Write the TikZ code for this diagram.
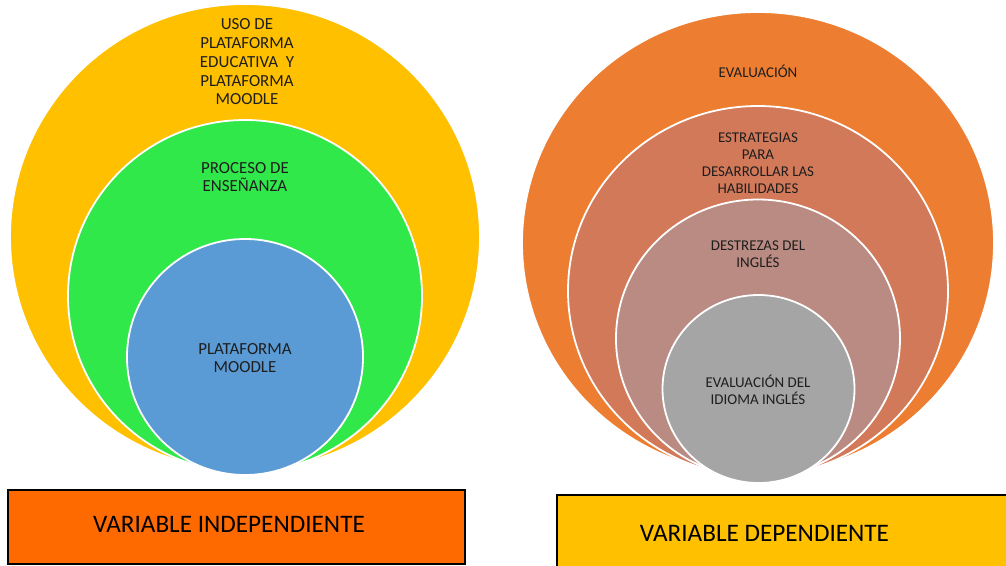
\documentclass[tikz,border=0pt]{standalone}
\usepackage{fontspec}
\setmainfont{Carlito}
\definecolor{cyellow}{RGB}{255,192,0}
\definecolor{cgreen}{RGB}{48,232,74}
\definecolor{cblue}{RGB}{91,155,213}
\definecolor{corange}{RGB}{237,125,49}
\definecolor{csalmon}{RGB}{210,121,90}
\definecolor{cmauve}{RGB}{186,139,130}
\definecolor{cgray}{RGB}{165,165,165}
\definecolor{cboxor}{RGB}{255,106,0}
\definecolor{ctext}{RGB}{30,30,30}
\tikzset{
  ring/.style={draw=white, line width=1.8bp},
  lefttxt/.style={text=ctext, align=center, inner sep=0pt, font=\fontsize{17}{18.8}\selectfont},
  righttxt/.style={text=ctext, align=center, inner sep=0pt, font=\fontsize{15}{17}\selectfont},
  varbox/.style={draw=black, line width=2bp},
  vartxt/.style={text=black, inner sep=0pt, font=\fontsize{25.3}{30}\selectfont}
}
\begin{document}
\begin{tikzpicture}[x=1bp,y=-1bp]
\useasboundingbox (0,0) rectangle (1006,566);
\fill[white] (0,0) rectangle (1006,566);
% left circles
\path[ring, fill=cyellow] (245,237) ellipse [x radius=235, y radius=233];
\path[ring, fill=cgreen] (245,296) ellipse [x radius=177, y radius=176];
\path[ring, fill=cblue] (245,357) ellipse [x radius=118, y radius=118];
% right circles
\path[ring, fill=corange] (758,243) ellipse [x radius=236, y radius=231];
\path[ring, fill=csalmon] (758,291) ellipse [x radius=190, y radius=185];
\path[ring, fill=cmauve] (758,338.5) ellipse [x radius=142, y radius=139];
\path[ring, fill=cgray] (758.5,389) ellipse [x radius=96, y radius=94];
% left texts
\node[lefttxt] (uso) at (247,62) {USO DE\\PLATAFORMA\\EDUCATIVA\ \ Y\\PLATAFORMA\\MOODLE};
\node[lefttxt] (proc) at (245,177) {PROCESO DE\\ENSEÑANZA};
\node[lefttxt] (moodle) at (245,358) {PLATAFORMA\\MOODLE};
% right texts
\node[righttxt] (eval) at (758,71) {EVALUACIÓN};
\node[righttxt] (estr) at (758,163) {ESTRATEGIAS\\PARA\\DESARROLLAR LAS\\HABILIDADES};
\node[righttxt] (destr) at (758,254) {DESTREZAS DEL\\INGLÉS};
\node[righttxt] (idioma) at (758,390) {EVALUACIÓN DEL\\IDIOMA INGLÉS};
% boxes
\path[varbox, fill=cboxor] (8,490) rectangle (465,564);
\node[vartxt] (vi) at (229,524) {VARIABLE INDEPENDIENTE};
\path[varbox, fill=cyellow] (557,495) rectangle (1014,575);
\node[vartxt] (vd) at (764.5,533) {VARIABLE DEPENDIENTE};
\end{tikzpicture}
\end{document}
